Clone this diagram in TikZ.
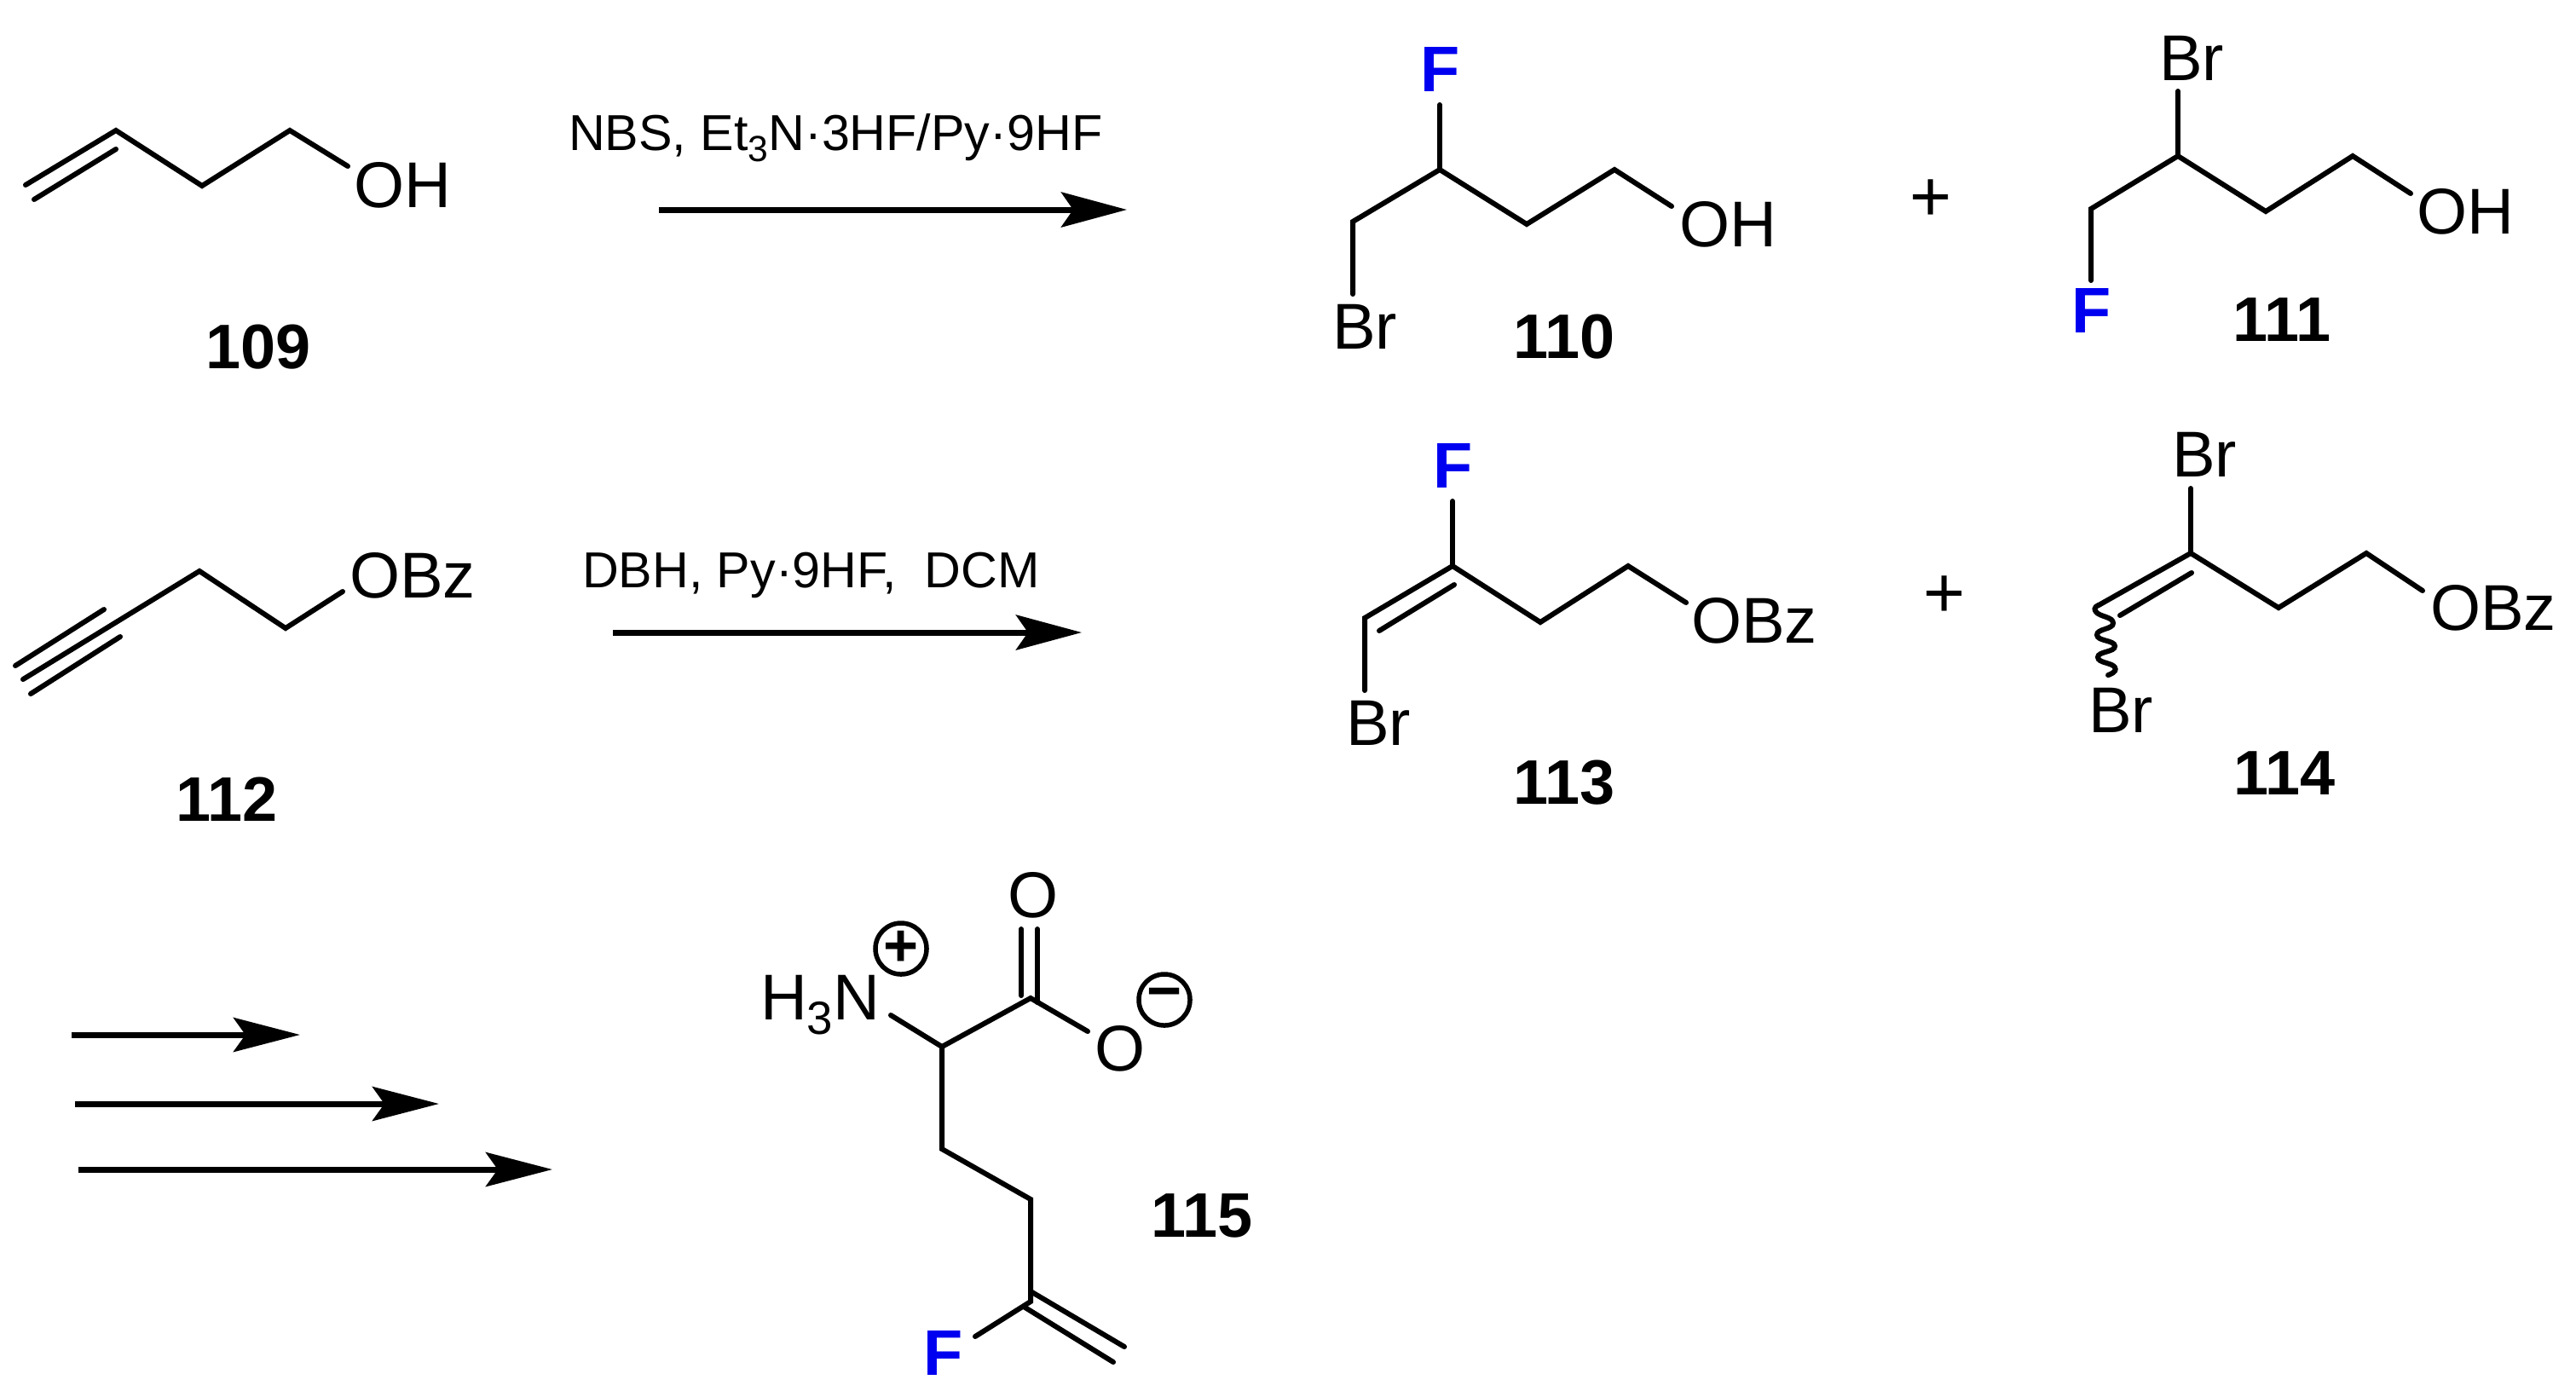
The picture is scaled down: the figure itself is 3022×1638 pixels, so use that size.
\documentclass[tikz,border=0pt]{standalone}
\usepackage{fontspec}
\setmainfont{Liberation Sans}
\usetikzlibrary{arrows.meta}
\newcommand{\lowidx}[1]{\raisebox{-0.22em}{\scalebox{0.72}{#1}}}
\tikzset{
  x=0.01cm,y=-0.01cm,
  bond/.style={line width=0.06cm,line cap=round,line join=miter,miter limit=10},
  lab/.style={anchor=base west,inner sep=0pt,outer sep=0pt},
  atom/.style={lab,xshift=-0.03cm,yshift=0.025cm,font=\fontsize{21.6}{24}\selectfont},
  fatom/.style={lab,xshift=-0.05cm,yshift=0.03cm,text=fblue,font=\fontsize{21.5}{24}\selectfont\bfseries},
  cpd/.style={lab,xshift=-0.015cm,font=\fontsize{21}{24}\selectfont\bfseries},
  reagent/.style={lab,xshift=-0.03cm,yshift=-0.01cm,font=\fontsize{16.85}{20}\selectfont},
  pluss/.style={anchor=center,inner sep=0pt,yshift=-0.035cm,font=\fontsize{24}{24}\selectfont},
  charge/.style={circle,draw,line width=0.055cm,minimum size=0.6cm,inner sep=0pt,font=\fontsize{20}{20}\selectfont\bfseries},
  rxn/.style={line width=0.07cm,-{Stealth[length=0.77cm,width=0.41cm,inset=0.14cm]}},
  rxns/.style={line width=0.07cm,-{Stealth[length=0.78cm,width=0.40cm,inset=0.14cm]}},
}
\definecolor{fblue}{RGB}{0,0,240}
\begin{document}
\begin{tikzpicture}
\useasboundingbox (0,0) rectangle (3022,1638);
% ---------- 109
\coordinate (a1) at (30,217); \coordinate (a2) at (136,153); \coordinate (a3) at (237,218);
\coordinate (a4) at (340,153); \coordinate (a5) at (408,195);
\coordinate (a6) at (40,234); \coordinate (a7) at (136,175);
\draw[bond] (a1)--(a2)--(a3)--(a4)--(a5);
\draw[bond] (a6)--(a7);
\node[atom] (oh109) at (418,246) {OH};
\node[cpd] (n109) at (243,432) {109};
\node[reagent] (r1) at (670,175) {NBS, Et\lowidx{3}N·3HF/Py·9HF};
\coordinate (r1s) at (773,246); \coordinate (r1e) at (1322,246);
\draw[rxn] (r1s)--(r1e);
% ---------- 110
\coordinate (b1) at (1689,123); \coordinate (b2) at (1689,199); \coordinate (b3) at (1587,260);
\coordinate (b4) at (1587,345); \coordinate (b5) at (1791,263); \coordinate (b6) at (1894,199);
\coordinate (b7) at (1961,242);
\draw[bond] (b4)--(b3)--(b2)--(b5)--(b6)--(b7);
\draw[bond] (b1)--(b2);
\node[fatom] (f110) at (1671,110) {F};
\node[atom] (br110) at (1566,412) {Br};
\node[atom] (oh110) at (1973,292) {OH};
\node[cpd] (n110) at (1777,420) {110};
\node[pluss] (p1) at (2265,232) {+};
% ---------- 111
\coordinate (c1) at (2555,107); \coordinate (c2) at (2555,183); \coordinate (c3) at (2453,245);
\coordinate (c4) at (2453,329); \coordinate (c5) at (2658,248); \coordinate (c6) at (2760,183);
\coordinate (c7) at (2828,227);
\draw[bond] (c4)--(c3)--(c2)--(c5)--(c6)--(c7);
\draw[bond] (c1)--(c2);
\node[atom] (br111) at (2536,97) {Br};
\node[fatom] (f111) at (2435,393) {F};
\node[atom] (oh111) at (2838,277) {OH};
\node[cpd] (n111) at (2621,400) {111};
% ---------- 112
\coordinate (d1) at (27,797); \coordinate (d2) at (234,670); \coordinate (d3) at (335,737);
\coordinate (d4) at (402,694); \coordinate (d5) at (18,781); \coordinate (d6) at (122,715);
\coordinate (d7) at (36,814); \coordinate (d8) at (141,747);
\draw[bond] (d1)--(d2)--(d3)--(d4);
\draw[bond] (d5)--(d6);
\draw[bond] (d7)--(d8);
\node[atom] (obz112) at (413,704) {OBz};
\node[cpd] (n112) at (208,963) {112};
\node[reagent] (r2) at (686,688) {DBH, Py·9HF, \ DCM};
\coordinate (r2s) at (719,742); \coordinate (r2e) at (1269,742);
\draw[rxn] (r2s)--(r2e);
% ---------- 113
\coordinate (e1) at (1704,588); \coordinate (e2) at (1704,664); \coordinate (e3) at (1601,725);
\coordinate (e4) at (1601,810); \coordinate (e5) at (1807,730); \coordinate (e6) at (1910,664);
\coordinate (e7) at (1978,707); \coordinate (e8) at (1706,686); \coordinate (e9) at (1618,740);
\draw[bond] (e4)--(e3)--(e2)--(e5)--(e6)--(e7);
\draw[bond] (e1)--(e2);
\draw[bond] (e8)--(e9);
\node[fatom] (f113) at (1686,575) {F};
\node[atom] (br113) at (1582,877) {Br};
\node[atom] (obz113) at (1987,757) {OBz};
\node[cpd] (n113) at (1777,943) {113};
\node[pluss] (p2) at (2281,697) {+};
% ---------- 114
\coordinate (g1) at (2570,573); \coordinate (g2) at (2570,649); \coordinate (g3) at (2462,710);
\coordinate (g4) at (2571,672); \coordinate (g5) at (2487,722); \coordinate (g6) at (2673,713);
\coordinate (g7) at (2776,649); \coordinate (g8) at (2842,693);
\coordinate (w2) at (2459,718); \coordinate (w3) at (2479,731); \coordinate (w4) at (2460,745);
\coordinate (w5) at (2481,758); \coordinate (w6) at (2461,771); \coordinate (w7) at (2481,783);
\coordinate (w8) at (2473,792);
\draw[bond] (g3)--(g2)--(g6)--(g7)--(g8);
\draw[bond] (g1)--(g2);
\draw[bond] (g4)--(g5);
\draw[bond] plot[smooth,tension=1] coordinates {(g3)(w2)(w3)(w4)(w5)(w6)(w7)(w8)};
\node[atom] (br114a) at (2551,562) {Br};
\node[atom] (br114b) at (2453,862) {Br};
\node[atom] (obz114) at (2854,742) {OBz};
\node[cpd] (n114) at (2622,932) {114};
% ---------- arrows
\coordinate (s1) at (84,1214); \coordinate (t1) at (352,1214);
\coordinate (s2) at (88,1295); \coordinate (t2) at (515,1295);
\coordinate (s3) at (92,1372); \coordinate (t3) at (648,1372);
\draw[rxns] (s1)--(t1);
\draw[rxns] (s2)--(t2);
\draw[rxns] (s3)--(t3);
% ---------- 115
\coordinate (h1) at (1045,1191); \coordinate (h2) at (1105,1228); \coordinate (h3) at (1209,1171);
\coordinate (h4) at (1276,1210); \coordinate (h5) at (1105,1348); \coordinate (h6) at (1209,1407);
\coordinate (h7) at (1209,1527); \coordinate (h8) at (1144,1568);
\coordinate (h9) at (1198,1090); \coordinate (h10) at (1198,1168);
\coordinate (h11) at (1217,1090); \coordinate (h12) at (1217,1176);
\coordinate (h13) at (1209,1515); \coordinate (h14) at (1319,1580);
\coordinate (h15) at (1201,1533); \coordinate (h16) at (1306,1598);
\draw[bond] (h1)--(h2)--(h3)--(h4);
\draw[bond] (h2)--(h5)--(h6)--(h7)--(h8);
\draw[bond] (h9)--(h10);
\draw[bond] (h11)--(h12);
\draw[bond] (h13)--(h14);
\draw[bond] (h15)--(h16);
\node[atom] (o115a) at (1185,1079) {O};
\node[atom] (o115b) at (1287,1259) {O};
\node[atom] (nh115) at (895,1199) {H\lowidx{3}N};
\node[charge] (cp) at (1057,1113) {+};
\node[charge] (cm) at (1366,1173) {\raisebox{-0.12em}{−}};
\node[cpd] (n115) at (1352,1451) {115};
\node[fatom] (f115) at (1088,1616) {F};
\end{tikzpicture}
\end{document}
